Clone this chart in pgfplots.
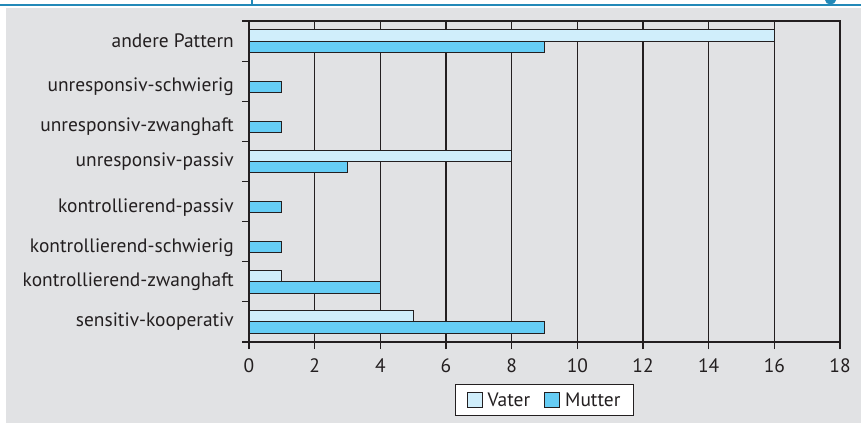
\documentclass[border=0pt]{standalone}
\usepackage{fontspec}
\setmainfont{PT Sans}
\usepackage{pgfplots}
\pgfplotsset{compat=1.18}
\definecolor{bg}{HTML}{E1E2E4}
\definecolor{vater}{HTML}{D0EEFB}
\definecolor{mutter}{HTML}{66CDF5}
\definecolor{ink}{HTML}{231F20}
\definecolor{rule}{HTML}{2389B8}
\begin{document}
\begin{tikzpicture}[x=1bp,y=1bp]
\useasboundingbox (0,0) rectangle (861,423);
\fill[bg] (6,0) rectangle (861,415);
\draw[rule, line width=2bp] (0,418) -- (861,418);
\draw[rule, line width=1.5bp] (252,418) -- (252,423);
\fill[rule] (830.5,423) ellipse (5.5 and 4.5);
\begin{axis}[
  at={(249bp,81bp)}, anchor=south west,
  scale only axis, width=591bp, height=321bp,
  font=\fontsize{19.5}{22}\selectfont,
  xbar, bar width=0.28,
  xmin=0, xmax=18, ymin=-0.5, ymax=7.5,
  xtick={0,2,...,18},
  xtick pos=bottom, ytick pos=left,
  tick align=outside,
  major tick length=7bp,
  xmajorgrids, grid style={ink, line width=1.1bp},
  axis line style={ink, line width=1.2bp},
  every tick/.style={ink, line width=1.2bp},
  ytick={0,1,1.86,2.86,4,4.86,5.86,7},
  yticklabels={sensitiv-kooperativ,kontrollierend-zwanghaft,kontrollierend-schwierig,kontrollierend-passiv,unresponsiv-passiv,unresponsiv-zwanghaft,unresponsiv-schwierig,andere Pattern},
  minor ytick={-0.5,0.5,...,7.5},
  y tick style={draw=none},
  minor y tick style={draw=ink, line width=1.2bp},
  minor tick length=7bp,
  yticklabel style={text=ink, inner sep=0pt, xshift=-8bp},
  xticklabel style={text=ink, inner sep=0pt, yshift=-9bp},
  /pgf/number format/assume math mode=true,
  legend style={at={(axis description cs:0.5,-0.1807)}, anchor=center, draw=ink, fill=white, line width=1bp, font=\fontsize{19.5}{22}\selectfont, inner xsep=11bp, inner ysep=5.5bp, text=ink,
    /tikz/every odd column/.append style={column sep=3bp},
    /tikz/every even column/.append style={column sep=12bp}},
  legend columns=2,
  legend image code/.code={\draw[#1, draw=ink, line width=1bp] (0bp,-7.5bp) rectangle (15bp,7.5bp);},
]
\addplot[draw=ink, line width=1.1bp, fill=vater, bar shift=0.14] coordinates {(5,0) (1,1) (8,4) (16,7)};
\addplot[draw=ink, line width=1.1bp, fill=mutter, bar shift=-0.14] coordinates {(9,0) (4,1) (1,2) (1,3) (3,4) (1,5) (1,6) (9,7)};
\legend{Vater, Mutter}
\end{axis}
\end{tikzpicture}
\end{document}
